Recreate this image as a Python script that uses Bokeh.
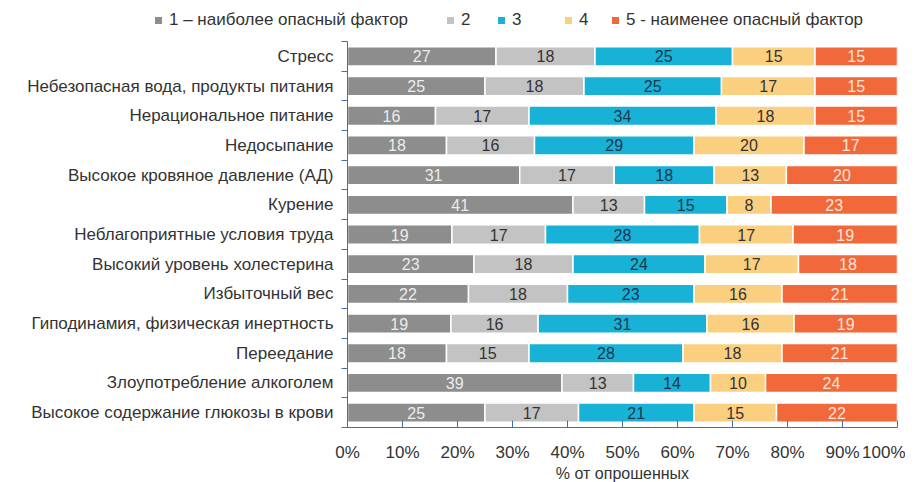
from bokeh.plotting import figure
from bokeh.models import ColumnDataSource, FixedTicker, Range1d, LinearAxis, Div
from bokeh.layouts import column
from bokeh.core.properties import value
from bokeh.embed import file_html
from bokeh.resources import INLINE

categories = [
    "Стресс",
    "Небезопасная вода, продукты питания",
    "Нерациональное питание",
    "Недосыпание",
    "Высокое кровяное давление (АД)",
    "Курение",
    "Неблагоприятные условия труда",
    "Высокий уровень холестерина",
    "Избыточный вес",
    "Гиподинамия, физическая инертность",
    "Переедание",
    "Злоупотребление алкоголем",
    "Высокое содержание глюкозы в крови",
]
s1 = [27, 25, 16, 18, 31, 41, 19, 23, 22, 19, 18, 39, 25]
s2 = [18, 18, 17, 16, 17, 13, 17, 18, 18, 16, 15, 13, 17]
s3 = [25, 25, 34, 29, 18, 15, 28, 24, 23, 31, 28, 14, 21]
s4 = [15, 17, 18, 20, 13, 8, 17, 17, 16, 16, 18, 10, 15]
s5 = [15, 15, 15, 17, 20, 23, 19, 18, 21, 19, 21, 24, 22]
series_names = ["1 – наиболее опасный фактор", "2", "3", "4", "5 - наименее опасный фактор"]
x_ticks = [0, 10, 20, 30, 40, 50, 60, 70, 80, 90, 100]
x_title = "% от опрошенных"

colors = ["#8d8d8d", "#c3c3c3", "#17b2d6", "#fbcf80", "#f1693b"]
text_colors = ["#ececec", "#333333", "#1d3650", "#333333", "#fde4d8"]
legend_x = [155, 447, 498, 565, 612]   # left edge of each legend entry (px)

FONT = "Liberation Sans"
n = len(categories)
ys = [n - i - 0.5 for i in range(n)]
series = [s1, s2, s3, s4, s5]
totals = [sum(vals) for vals in zip(*series)]

# ---- legend strip (top) ----
entries = []
for name, col, lx in zip(series_names, colors, legend_x):
    entries.append(
        f'<div style="position:absolute;left:{lx}px;top:11px;height:18px;'
        f'display:flex;align-items:center;white-space:nowrap;">'
        f'<span style="display:inline-block;width:7px;height:7px;background:{col};'
        f'margin-right:7px;"></span>'
        f'<span style="font-family:\'{FONT}\';font-size:17px;color:#333333;'
        f'line-height:18px;">{name}</span></div>'
    )
legend_div = Div(text='<div style="position:relative;width:905px;height:33px;">'
                 + "".join(entries) + "</div>",
                 width=905, height=33, margin=(0, 0, 0, 0))

# ---- main chart ----
p = figure(frame_width=550, frame_height=386, output_backend="svg", toolbar_location=None,
           x_range=Range1d(0, 100), y_range=Range1d(0, n),
           x_axis_type=None, y_axis_type=None,
           min_border_left=347, min_border_right=8,
           min_border_top=8, min_border_bottom=50)
p.outline_line_color = None
p.xgrid.visible = False
p.ygrid.visible = False

left = [0.0] * n
for k, vals in enumerate(series):
    pct = [v / t * 100 for v, t in zip(vals, totals)]
    right = [l + q for l, q in zip(left, pct)]
    mid = [(l + r) / 2 for l, r in zip(left, right)]
    src = ColumnDataSource(dict(y=ys, left=left, right=right, mid=mid,
                                lab=[str(v) for v in vals]))
    p.hbar(y="y", left="left", right="right", height=0.65, source=src,
           fill_color=colors[k], line_color="white", line_width=1.5)
    p.text(x="mid", y="y", text="lab", source=src, text_align="center",
           text_baseline="middle", text_font=value(FONT), text_font_size="16px",
           text_color=text_colors[k])
    left = right

axis_color = "#46709a"

xaxis = LinearAxis(ticker=FixedTicker(ticks=x_ticks),
                   major_label_overrides={t: f"{t}%" for t in x_ticks})
xaxis.axis_line_color = axis_color
xaxis.major_tick_line_color = axis_color
xaxis.major_tick_in = 7
xaxis.major_tick_out = 0
xaxis.minor_tick_line_color = None
xaxis.major_label_standoff = 15
xaxis.major_label_text_font = FONT
xaxis.major_label_text_font_size = "17px"
xaxis.major_label_text_color = "#333333"
xaxis.axis_label = x_title
xaxis.axis_label_text_font = FONT
xaxis.axis_label_text_font_size = "16px"
xaxis.axis_label_text_font_style = "normal"
xaxis.axis_label_text_color = "#333333"
xaxis.axis_label_standoff = 0
p.add_layout(xaxis, "below")

yaxis = LinearAxis(ticker=FixedTicker(ticks=ys, minor_ticks=list(range(n + 1))),
                   major_label_overrides={y: c for y, c in zip(ys, categories)})
yaxis.axis_line_color = axis_color
yaxis.major_tick_line_color = None
yaxis.major_tick_in = 0
yaxis.major_tick_out = 0
yaxis.minor_tick_line_color = axis_color
yaxis.minor_tick_out = 6
yaxis.minor_tick_in = 0
yaxis.major_label_standoff = 8
yaxis.major_label_text_font = FONT
yaxis.major_label_text_font_size = "17px"
yaxis.major_label_text_color = "#333333"
p.add_layout(yaxis, "left")

layout = column(legend_div, p, spacing=0)
open("out.html", "w").write(file_html(layout, INLINE))
